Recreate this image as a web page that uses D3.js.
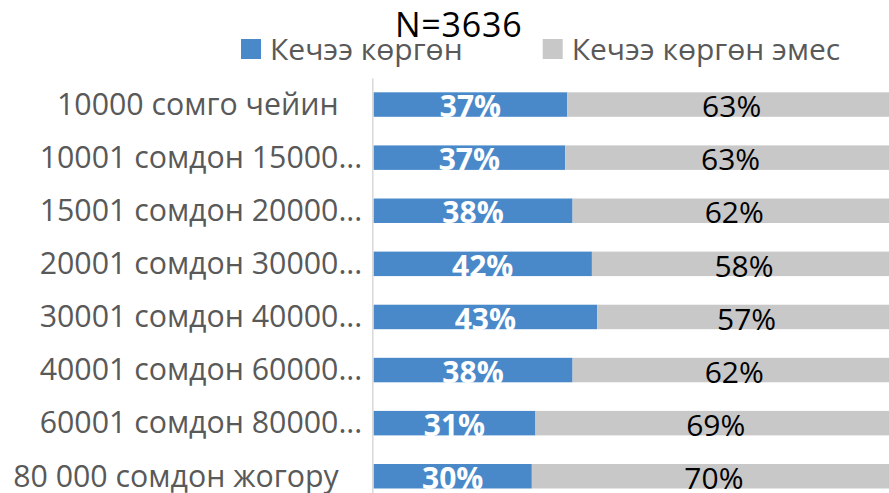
<!DOCTYPE html>
<html><head><meta charset="utf-8">
<script src="https://cdn.jsdelivr.net/npm/d3@7"></script>
<style>
body{margin:0;background:#fff;}
svg{display:block;font-family:"Open Sans",sans-serif;}
</style>
</head><body>
<svg id="chart" width="889" height="493"></svg>
<script>
const title = "N=3636";
const seriesNames = ["Кечээ көргөн", "Кечээ көргөн эмес"];
const seriesColors = ["#4a89c9", "#c8c8c8"];
const categories = [
  "10000 сомго чейин\u00a0\u00a0\u00a0",
  "10001 сомдон 15000...",
  "15001 сомдон 20000...",
  "20001 сомдон 30000...",
  "30001 сомдон 40000...",
  "40001 сомдон 60000...",
  "60001 сомдон 80000...",
  "80 000 сомдон жогору\u00a0\u00a0\u00a0"
];
const seenValues    = [37.1, 36.7, 38.1, 41.8, 42.8, 38.1, 31.0, 30.3];
const notSeenValues = [62.9, 63.3, 61.9, 58.2, 57.2, 61.9, 69.0, 69.7];

const svg = d3.select("#chart");
const rows = categories.map((c, i) => ({cat: c, s0: seenValues[i], s1: notSeenValues[i]}));
const stack = d3.stack().keys(["s0", "s1"]);
const series = stack(rows);

const x = d3.scaleLinear().domain([0, 100]).range([373.5, 896]);
const y = d3.scaleBand().domain(categories).range([78, 502.8])
  .paddingInner(0.539).paddingOuter(0.2695);

// bars
const g = svg.append("g");
series.forEach((s, si) => {
  g.selectAll(null).data(s).enter().append("rect")
    .attr("x", d => x(d[0]))
    .attr("y", d => y(d.data.cat))
    .attr("width", d => x(d[1]) - x(d[0]))
    .attr("height", y.bandwidth())
    .attr("fill", seriesColors[si]);
});

// data labels
const fmt = v => d3.format(".0f")(v) + "%";
series.forEach((s, si) => {
  g.selectAll(null).data(s).enter().append("text")
    .attr("x", d => (x(d[0]) + x(d[1])) / 2)
    .attr("y", d => y(d.data.cat) + y.bandwidth() + 0.5)
    .attr("text-anchor", "middle")
    .attr("font-size", 30)
    .attr("font-weight", si === 0 ? 700 : 400)
    .attr("fill", si === 0 ? "#ffffff" : "#000000")
    .text(d => fmt(d[1] - d[0]));
});

// axis
const axis = svg.append("g").attr("transform", "translate(372.3,0)")
  .call(d3.axisLeft(y).tickSize(0).tickSizeOuter(0).tickPadding(10));
axis.select(".domain").attr("stroke", "#d9d9d9").attr("stroke-width", 1.5);
axis.selectAll(".tick text")
  .attr("font-family", "\"Open Sans\",sans-serif")
  .attr("font-size", 30.3)
  .attr("fill", "#595959")
  .attr("dy", null)
  .attr("y", y.bandwidth() / 2 - 2);

// title
svg.append("text").attr("x", 458.7).attr("y", 37.3)
  .attr("text-anchor", "middle").attr("font-size", 34).attr("letter-spacing", 0.8)
  .attr("fill", "#000")
  .text(title);

// legend
const legendX = [241, 542.7];
seriesNames.forEach((n, i) => {
  svg.append("rect").attr("x", legendX[i]).attr("y", 39)
    .attr("width", 20).attr("height", 20).attr("fill", seriesColors[i]);
  svg.append("text").attr("x", legendX[i] + 29).attr("y", 59.5)
    .attr("font-size", 30).attr("fill", "#595959").text(n);
});
</script>
</body></html>
